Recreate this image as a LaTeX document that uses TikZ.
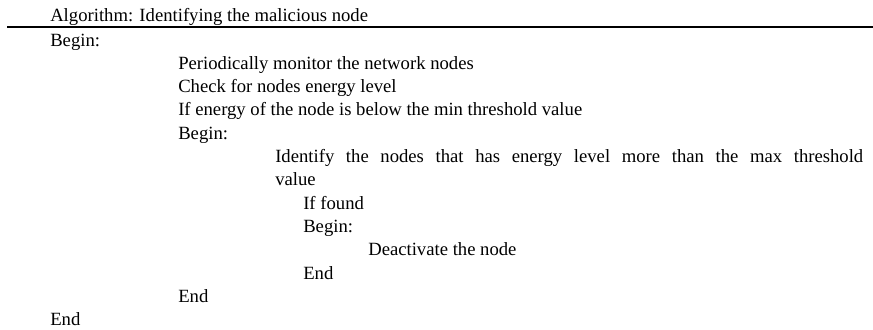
\documentclass[tikz,border=0pt]{standalone}
\usepackage{fontspec}
\setmainfont{Liberation Serif}
\begin{document}
\begin{tikzpicture}[x=0.75pt,y=-0.75pt,
	algline/.style={anchor=base west,inner sep=0pt,font=\fontsize{14}{16}\selectfont}]
	\useasboundingbox (0,0) rectangle (873,329);
	% heading and rule under it
	\node[algline] (title) at (50,21) {Algorithm: Identifying the malicious node};
	\draw[line width=1.5pt] (7,26.5) coordinate (rulel) -- (873,26.5) coordinate (ruler);
	% outer block
	\node[algline] (begA) at (50,46) {Begin:};
	\node[algline] (monitor) at (178,69.3) {Periodically monitor the network nodes};
	\node[algline] (check) at (178,92.6) {Check for nodes energy level};
	\node[algline] (ifmin) at (178,115.9) {If energy of the node is below the min threshold value};
	\node[algline] (begB) at (178,139.2) {Begin:};
	% inner block
	\node[algline] (ident) at (275,162.5) {\makebox[441pt][s]{Identify the nodes that has energy level more than the max threshold}};
	\node[algline] (identb) at (275,185.8) {value};
	\node[algline] (iffound) at (303,209.1) {If found};
	\node[algline] (begC) at (303,232.4) {Begin:};
	\node[algline] (deact) at (368,255.7) {Deactivate the node};
	\node[algline] (endC) at (303,279) {End};
	\node[algline] (endB) at (178,302.3) {End};
	\node[algline] (endA) at (50,325.6) {End};
\end{tikzpicture}
\end{document}
